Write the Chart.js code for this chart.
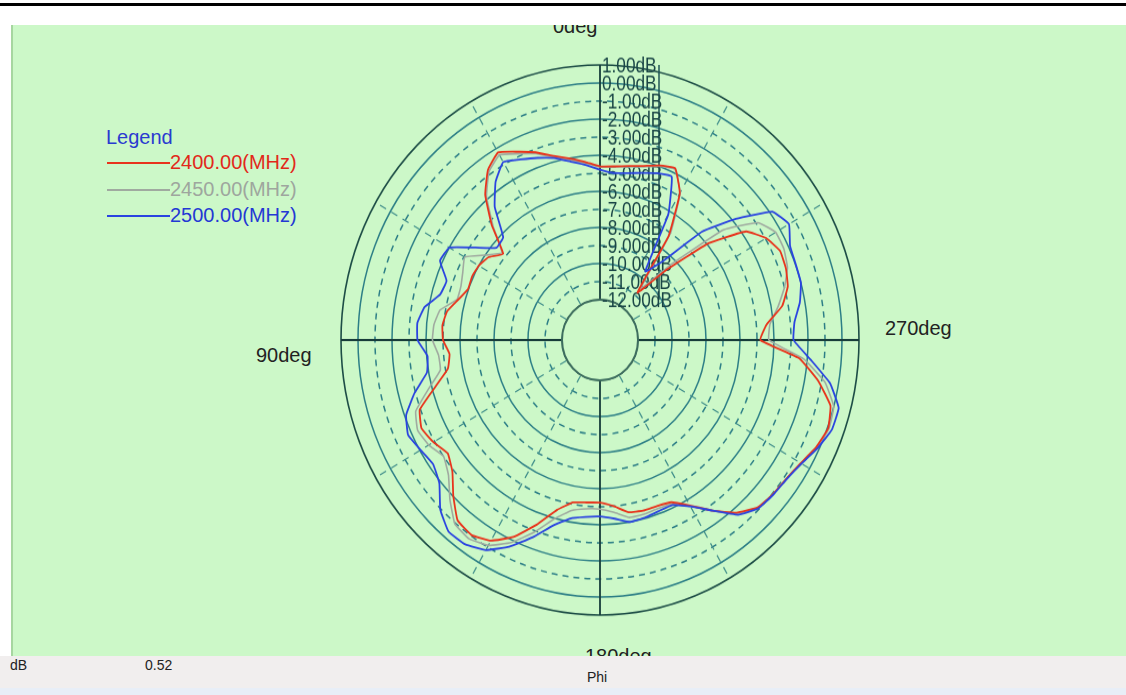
<!DOCTYPE html>
<html>
<head>
<meta charset="utf-8">
<script src="https://cdn.jsdelivr.net/npm/chart.js@4.4.1/dist/chart.umd.min.js"></script>
<style>
html,body{margin:0;padding:0;background:#fff;width:1126px;height:695px;overflow:hidden;font-family:"Liberation Sans",Arial,sans-serif;}
#topline{position:absolute;left:0;top:3px;width:1126px;height:3px;background:#000;}
#panel{position:absolute;left:11px;top:25px;width:1115px;height:631px;background:#ccf8c8;overflow:hidden;}
#panelEdge{position:absolute;left:11px;top:25px;width:2px;height:631px;background:#a6d6a0;}
#chartWrap{position:absolute;left:319px;top:45px;width:540px;height:540px;transform:scaleY(1.062);transform-origin:270px 270px;}
.lbl{position:absolute;font-size:20px;color:#222;white-space:nowrap;line-height:24px;}
.leg{position:absolute;font-size:20px;white-space:nowrap;line-height:24px;}
.legline{position:absolute;height:2px;width:63px;}
#bottom{position:absolute;left:0;top:656px;width:1126px;height:32px;background:#f1eeee;}
#bottom2{position:absolute;left:0;top:688px;width:1126px;height:7px;background:#e8eef7;}
.bt{position:absolute;font-size:14px;color:#222;line-height:16px;}
</style>
</head>
<body>
<div id="topline"></div>
<div id="panel">
  <div id="chartWrap"><canvas id="c" width="540" height="540"></canvas></div>
  <div class="lbl" style="left:542px;top:-11px;">0deg</div>
  <div class="lbl" style="left:574px;top:619px;">180deg</div>
  <div class="lbl" style="left:245px;top:318px;">90deg</div>
  <div class="lbl" style="left:874px;top:291px;">270deg</div>
  <div class="leg" style="left:95px;top:100px;color:#2a3ad0;">Legend</div>
  <div id="legendItems"></div>
</div>
<div id="panelEdge"></div>
<div id="bottom">
  <div class="bt" style="left:10px;top:1px;">dB</div>
  <div class="bt" style="left:145px;top:1px;">0.52</div>
  <div class="bt" style="left:587px;top:13px;">Phi</div>
</div>
<div id="bottom2"></div>
<script>
// ---- data (Phi in degrees, gain in dB) ----
const phiDeg = [0,5,10,15,20,25,30,35,40,45,50,55,60,65,70,75,80,85,90,95,
  100,105,110,115,120,125,130,135,140,145,150,155,160,165,170,175,180,185,190,195,
  200,205,210,215,220,225,230,235,240,245,250,255,260,265,270,275,280,285,290,295,
  300,305,310,315,320,325,330,335,340,345,350,355];

const seriesNames = ['2400.00(MHz)','2450.00(MHz)','2500.00(MHz)'];
const seriesColors = ['#e8341c','#a0aaa0','#2a44e0'];
const legendTextColors = ['#e2281a','#9ea69e','#2438d4'];

const gain2400 = [-4.62,-4.33,-4.03,-3.68,-3.17,-2.73,-2.24,-2.74,-3.73,-5.23,
  -6.8,-6.23,-6.0,-5.93,-5.98,-5.6,-5.1,-4.93,-5.0,-5.35,
  -5.15,-4.2,-2.95,-2.65,-2.92,-3.3,-2.9,-2.03,-1.2,-1.05,
  -1.4,-2.2,-3.35,-4.5,-5.1,-5.2,-5.23,-5.0,-4.55,-4.45,
  -4.45,-4.32,-3.65,-2.7,-1.75,-1.12,-0.95,-0.85,-0.6,-0.2,
  0.05,-0.2,-1.2,-2.45,-4.8,-4.4,-3.35,-2.8,-2.6,-2.55,
  -2.95,-3.75,-5.9,-8.8,-10.8,-7.2,-4.85,-3.75,-3.95,-4.25,
  -4.45,-4.58];

const gain2450 = [-4.65,-4.4,-4.1,-3.75,-3.25,-2.85,-2.4,-2.85,-3.85,-5.35,
  -6.7,-6.03,-5.05,-5.33,-5.53,-5.53,-4.68,-4.43,-4.38,-4.7,
  -4.7,-3.8,-2.7,-2.4,-2.6,-3.0,-2.6,-1.75,-0.95,-0.8,
  -1.1,-1.85,-2.9,-4.0,-4.65,-4.85,-4.87,-4.65,-4.25,-4.25,
  -4.3,-4.2,-3.6,-2.7,-1.7,-1.1,-0.95,-0.85,-0.55,-0.15,
  0.1,0.0,-0.8,-2.2,-4.3,-4.2,-3.6,-3.0,-2.5,-2.3,
  -2.3,-2.9,-4.75,-8.3,-10.5,-7.0,-4.8,-3.8,-4.0,-4.3,
  -4.5,-4.6];

const gain2500 = [-4.8,-4.5,-4.2,-3.8,-3.5,-3.2,-2.85,-3.53,-4.6,-6.18,
  -6.28,-5.31,-4.0,-3.85,-4.63,-4.5,-3.75,-3.45,-3.5,-4.05,
  -3.9,-2.95,-2.1,-1.78,-2.05,-2.25,-1.9,-0.95,-0.38,-0.42,
  -0.8,-1.6,-2.6,-3.6,-4.2,-4.4,-4.46,-4.3,-4.0,-4.05,
  -4.15,-4.15,-3.6,-2.7,-1.6,-1.05,-0.92,-0.82,-0.55,-0.1,
  0.28,0.3,-0.5,-1.8,-2.85,-2.75,-2.3,-2.0,-1.98,-1.9,
  -1.4,-1.85,-3.8,-5.75,-8.6,-9.6,-6.2,-4.25,-4.4,-4.65,
  -4.85,-4.95];

const tickValues = [1,0,-1,-2,-3,-4,-5,-6,-7,-8,-9,-10,-11,-12];
const tickLabels = ['1.00dB','0.00dB','-1.00dB','-2.00dB','-3.00dB','-4.00dB','-5.00dB',
  '-6.00dB','-7.00dB','-8.00dB','-9.00dB','-10.00dB','-11.00dB','-12.00dB'];
const scaleMin = -14.235;   // radius of the -12 dB circle leaves the central hole
const scaleMax = 1;
const innerValue = -12;
const panelBg = '#ccf8c8';

// Chart.js radar runs clockwise; Phi here runs counter-clockwise (90deg on the left)
const n = phiDeg.length;
const order = phiDeg.map((_, i) => (n - i) % n);
const chartLabels = order.map(j => phiDeg[j]);
const reorder = arr => order.map(j => arr[j]);

// legend (HTML text)
const legendBox = document.getElementById('legendItems');
seriesNames.forEach((name, k) => {
  const top = 125 + k * 26.5;
  const ln = document.createElement('div');
  ln.className = 'legline';
  ln.style.left = '96px'; ln.style.top = (top + 12) + 'px';
  ln.style.background = seriesColors[k];
  legendBox.appendChild(ln);
  const t = document.createElement('div');
  t.className = 'leg';
  t.style.left = '159px'; t.style.top = top + 'px';
  t.style.color = legendTextColors[k];
  t.textContent = name;
  legendBox.appendChild(t);
});

const decorPlugin = {
  id: 'decor',
  beforeDatasetsDraw(chart) {
    const s = chart.scales.r, ctx = chart.ctx;
    const cx = s.xCenter, cy = s.yCenter;
    const r0 = s.getDistanceFromCenterForValue(innerValue);
    const rTop = s.getDistanceFromCenterForValue(tickValues[0]);
    ctx.save();
    // central hole
    ctx.beginPath();
    ctx.arc(cx, cy, r0, 0, Math.PI * 2);
    ctx.fillStyle = panelBg;
    ctx.fill();
    ctx.lineWidth = 2;
    ctx.strokeStyle = '#3d6d5e';
    ctx.stroke();
    // label column edge
    ctx.beginPath();
    ctx.moveTo(cx + 59, cy - rTop);
    ctx.lineTo(cx + 59, cy - r0);
    ctx.lineWidth = 1.5;
    ctx.strokeStyle = '#1f5656';
    ctx.stroke();
    // radial tick labels
    ctx.fillStyle = '#1a4646';
    ctx.font = '21px "Liberation Sans", Arial, sans-serif';
    ctx.textAlign = 'left';
    ctx.textBaseline = 'middle';
    tickValues.forEach((v, i) => {
      const d = s.getDistanceFromCenterForValue(v);
      ctx.save();
      ctx.translate(cx + 2, cy - d + 1);
      ctx.scale(0.82, 0.95);
      ctx.fillText(tickLabels[i], 0, 0);
      ctx.restore();
    });
    ctx.restore();
  }
};

const phiOfIndex = i => chartLabels[i];

new Chart(document.getElementById('c'), {
  type: 'radar',
  data: {
    labels: chartLabels,
    datasets: [
      {label: seriesNames[0], data: reorder(gain2400), borderColor: seriesColors[0], borderWidth: 1.8, order: 2},
      {label: seriesNames[1], data: reorder(gain2450), borderColor: seriesColors[1], borderWidth: 1.6, order: 3},
      {label: seriesNames[2], data: reorder(gain2500), borderColor: seriesColors[2], borderWidth: 1.8, order: 1}
    ]
  },
  options: {
    responsive: false,
    animation: false,
    devicePixelRatio: 1,
    layout: {padding: 11},
    elements: {
      point: {radius: 0, hitRadius: 0, hoverRadius: 0},
      line: {tension: 0.1, fill: false, backgroundColor: 'transparent'}
    },
    plugins: {legend: {display: false}, tooltip: {enabled: false}},
    scales: {
      r: {
        min: scaleMin,
        max: scaleMax,
        startAngle: 0,
        afterBuildTicks: sc => { sc.ticks = tickValues.map(v => ({value: v})); },
        ticks: {display: false},
        pointLabels: {display: false},
        grid: {
          circular: true,
          color: c => {
            const v = c.tick ? c.tick.value : 0;
            if (v === 1) return '#1d4d46';
            if (v === innerValue) return '#3d6d5e';
            return '#2c7e86';
          },
          lineWidth: c => {
            const v = c.tick ? c.tick.value : 0;
            return v === 1 ? 1.6 : 1.5;
          }
        },
        border: {
          dash: c => {
            const v = c.tick ? c.tick.value : 0;
            return (v < 0 && Math.abs(v) % 2 === 1) ? [6, 5] : [];
          }
        },
        angleLines: {
          color: c => {
            const p = phiOfIndex(c.index);
            if (p % 90 === 0) return '#173c3a';
            if (p % 30 === 0) return '#3f8d8a';
            return 'rgba(0,0,0,0)';
          },
          lineWidth: c => {
            const p = phiOfIndex(c.index);
            if (p % 90 === 0) return 1.8;
            if (p % 30 === 0) return 1.2;
            return 0;
          },
          borderDash: c => (phiOfIndex(c.index) % 90 === 0 ? [] : [7, 6])
        }
      }
    }
  },
  plugins: [decorPlugin]
});
</script>
</body>
</html>
